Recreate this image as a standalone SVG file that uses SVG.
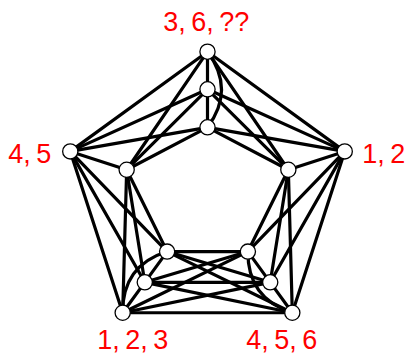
<svg xmlns="http://www.w3.org/2000/svg" width="409" height="355" viewBox="0 0 409 355">
<style>
.e{stroke:#000;stroke-width:3.2;fill:none;stroke-linecap:round}
.n{fill:#fff;stroke:#000;stroke-width:1.3}
.l{fill:#ff0000;font-family:"Liberation Sans",Arial,sans-serif;font-size:27px;text-anchor:middle;word-spacing:-2px}
</style>
<rect width="409" height="355" fill="#fff"/>
<g id="connectors">
<line class="e" x1="207.5" y1="51.7" x2="207.5" y2="89.3"/>
<line class="e" x1="207.5" y1="89.3" x2="207.5" y2="127.3"/>
<path class="e" d="M207.5,51.7 Q235.5,89.5 207.5,127.3"/>
<line class="e" x1="344.74" y1="151.41" x2="288.34" y2="169.73"/>
<line class="e" x1="70.26" y1="151.41" x2="126.66" y2="169.73"/>
<line class="e" x1="122.68" y1="312.74" x2="144.78" y2="282.32"/>
<line class="e" x1="144.78" y1="282.32" x2="167.12" y2="251.58"/>
<path class="e" d="M122.68,312.74 Q122.25,265.7 167.12,251.58"/>
<line class="e" x1="292.32" y1="312.74" x2="270.22" y2="282.32"/>
<line class="e" x1="270.22" y1="282.32" x2="247.88" y2="251.58"/>
<path class="e" d="M292.32,312.74 Q247.45,298.6 247.88,251.58"/>
<line class="e" x1="207.5" y1="51.7" x2="344.74" y2="151.41"/>
<line class="e" x1="207.5" y1="89.3" x2="344.74" y2="151.41"/>
<line class="e" x1="207.5" y1="127.3" x2="344.74" y2="151.41"/>
<line class="e" x1="207.5" y1="51.7" x2="288.34" y2="169.73"/>
<line class="e" x1="207.5" y1="89.3" x2="288.34" y2="169.73"/>
<line class="e" x1="207.5" y1="127.3" x2="288.34" y2="169.73"/>
<line class="e" x1="207.5" y1="51.7" x2="70.26" y2="151.41"/>
<line class="e" x1="207.5" y1="89.3" x2="70.26" y2="151.41"/>
<line class="e" x1="207.5" y1="127.3" x2="70.26" y2="151.41"/>
<line class="e" x1="207.5" y1="51.7" x2="126.66" y2="169.73"/>
<line class="e" x1="207.5" y1="89.3" x2="126.66" y2="169.73"/>
<line class="e" x1="207.5" y1="127.3" x2="126.66" y2="169.73"/>
<line class="e" x1="344.74" y1="151.41" x2="292.32" y2="312.74"/>
<line class="e" x1="344.74" y1="151.41" x2="270.22" y2="282.32"/>
<line class="e" x1="344.74" y1="151.41" x2="247.88" y2="251.58"/>
<line class="e" x1="288.34" y1="169.73" x2="292.32" y2="312.74"/>
<line class="e" x1="288.34" y1="169.73" x2="270.22" y2="282.32"/>
<line class="e" x1="288.34" y1="169.73" x2="247.88" y2="251.58"/>
<line class="e" x1="70.26" y1="151.41" x2="122.68" y2="312.74"/>
<line class="e" x1="70.26" y1="151.41" x2="144.78" y2="282.32"/>
<line class="e" x1="70.26" y1="151.41" x2="167.12" y2="251.58"/>
<line class="e" x1="126.66" y1="169.73" x2="122.68" y2="312.74"/>
<line class="e" x1="126.66" y1="169.73" x2="144.78" y2="282.32"/>
<line class="e" x1="126.66" y1="169.73" x2="167.12" y2="251.58"/>
<line class="e" x1="122.68" y1="312.74" x2="292.32" y2="312.74"/>
<line class="e" x1="122.68" y1="312.74" x2="270.22" y2="282.32"/>
<line class="e" x1="122.68" y1="312.74" x2="247.88" y2="251.58"/>
<line class="e" x1="144.78" y1="282.32" x2="292.32" y2="312.74"/>
<line class="e" x1="144.78" y1="282.32" x2="270.22" y2="282.32"/>
<line class="e" x1="144.78" y1="282.32" x2="247.88" y2="251.58"/>
<line class="e" x1="167.12" y1="251.58" x2="292.32" y2="312.74"/>
<line class="e" x1="167.12" y1="251.58" x2="270.22" y2="282.32"/>
<line class="e" x1="167.12" y1="251.58" x2="247.88" y2="251.58"/>
</g>
<g id="A"><circle class="n" cx="207.5" cy="51.7" r="7.6"/></g>
<g id="a1"><circle class="n" cx="207.5" cy="89.3" r="7.6"/></g>
<g id="a2"><circle class="n" cx="207.5" cy="127.3" r="7.6"/></g>
<g id="B"><circle class="n" cx="344.74" cy="151.41" r="7.6"/></g>
<g id="b"><circle class="n" cx="288.34" cy="169.73" r="7.6"/></g>
<g id="E"><circle class="n" cx="70.26" cy="151.41" r="7.6"/></g>
<g id="e"><circle class="n" cx="126.66" cy="169.73" r="7.6"/></g>
<g id="D"><circle class="n" cx="122.68" cy="312.74" r="7.6"/></g>
<g id="d2"><circle class="n" cx="144.78" cy="282.32" r="7.6"/></g>
<g id="d1"><circle class="n" cx="167.12" cy="251.58" r="7.6"/></g>
<g id="C"><circle class="n" cx="292.32" cy="312.74" r="7.6"/></g>
<g id="c2"><circle class="n" cx="270.22" cy="282.32" r="7.6"/></g>
<g id="c1"><circle class="n" cx="247.88" cy="251.58" r="7.6"/></g>
<g id="labels">
<text class="l" x="206.3" y="31">3, 6, ??</text>
<text class="l" x="29.7" y="163.3">4, 5</text>
<text class="l" x="383.7" y="163.3">1, 2</text>
<text class="l" x="132.8" y="349.3">1, 2, 3</text>
<text class="l" x="281.7" y="349.3">4, 5, 6</text>
</g>
</svg>
